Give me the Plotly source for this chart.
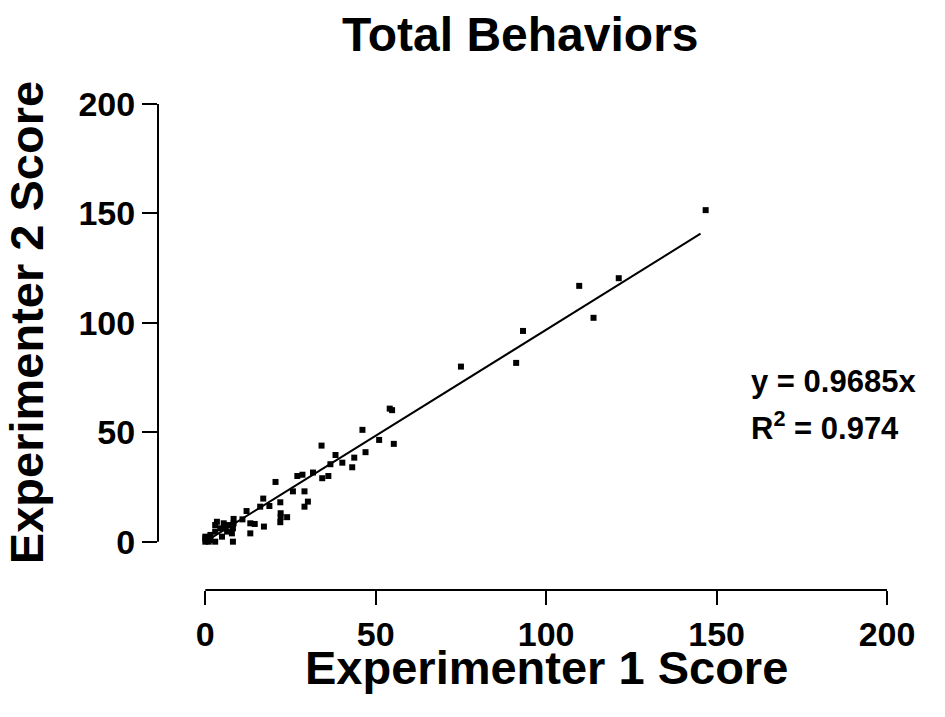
import plotly.graph_objects as go

# Experimenter scores
exp1_score = [146.8, 121.3, 109.7, 113.9, 93.2, 91.2, 75.0, 54.1, 54.8,
              46.1, 51.0, 55.3, 34.1, 47.0, 38.2, 43.7, 40.2, 36.7, 43.1,
              31.6, 28.5, 27.0, 36.1, 34.3, 20.6, 25.7, 29.1, 17.0, 22.0,
              30.1, 16.1, 18.8, 29.1, 12.1, 22.1, 24.0, 22.1, 22.0, 10.9,
              13.2, 14.5, 17.2, 13.2, 8.3, 8.1, 8.1,
              3.4, 5.4, 6.8, 4.4, 6.4, 2.9, 1.5, 0.0, 0.0, 2.9, 1.5, 7.8,
              4.9, 8.3, 2.9, 5.9, 0.0, 1.0]
exp2_score = [151.5, 120.4, 116.9, 102.3, 96.3, 81.7, 80.0, 60.8, 60.1,
              51.1, 46.5, 44.7, 43.9, 40.9, 39.6, 38.4, 36.1, 35.4, 34.0,
              31.6, 30.6, 30.0, 30.0, 29.0, 27.3, 23.0, 23.0, 19.7, 18.0,
              18.3, 16.0, 16.3, 16.0, 14.0, 13.0, 11.2, 11.2, 8.9, 10.2,
              8.4, 8.1, 6.9, 3.8, 10.4, 6.1, 0.0,
              9.1, 8.4, 7.6, 6.1, 4.6, 4.6, 3.1, 2.3, 0.0, 0.0, 0.8, 3.8,
              2.3, 8.4, 7.6, 6.1, 1.5, 0.0]

slope = 0.9685
r_squared = 0.974
fit_x = [0, 145.3]
fit_y = [slope * v for v in fit_x]

tick_vals = [0, 50, 100, 150, 200]
tick_text = ["0", "50", "100", "150", "200"]

FONT = "Liberation Sans, Arial, sans-serif"

fig = go.Figure()
fig.add_trace(go.Scatter(x=exp1_score, y=exp2_score, mode="markers",
                         marker=dict(symbol="square", size=6, color="black",
                                     line=dict(width=0)),
                         cliponaxis=False, showlegend=False))
fig.add_trace(go.Scatter(x=fit_x, y=fit_y, mode="lines",
                         line=dict(color="black", width=2),
                         showlegend=False))

# page body has an 8px offset; plot area in screen px: x 157.7..886.7, y 104.3..590
OFF = 8
W, H = 945, 717
L = 157.7 - OFF
T = 104.3 - OFF
R = W - (886.7 - OFF)
B = H - (590 - OFF)

bold_ticks = [f"<b>{t}</b>" for t in tick_text]

fig.update_layout(
    width=W, height=H,
    margin=dict(l=L, r=R, t=T, b=B, pad=0),
    paper_bgcolor="white", plot_bgcolor="white",
    font=dict(family=FONT, color="black"),
    xaxis=dict(range=[-13.88, 200], tickvals=tick_vals, ticktext=bold_ticks,
               ticks="outside", ticklen=14, tickwidth=2, tickcolor="black",
               showgrid=False, zeroline=False, showline=False,
               tickfont=dict(size=34, family=FONT, color="black"),
               automargin=False),
    yaxis=dict(range=[-22.08, 200], tickvals=tick_vals, ticktext=bold_ticks,
               ticks="outside", ticklen=15, tickwidth=2, tickcolor="black",
               showgrid=False, zeroline=False, showline=False,
               tickfont=dict(size=34, family=FONT, color="black"),
               automargin=False),
)

# Offset axis lines (Prism style)
fig.add_shape(type="line", xref="x", yref="paper", x0=0, x1=200, y0=0, y1=0,
              line=dict(color="black", width=2))
fig.add_shape(type="line", xref="paper", yref="y", x0=0, x1=0, y0=0, y1=200,
              line=dict(color="black", width=2))

ph = 590 - 104.3
pw = 886.7 - 157.7

def px_x(sx):
    return (sx - 157.7) / pw

def px_y(sy):
    return (590 - sy) / ph

fig.add_annotation(text="<b>Total Behaviors</b>", xref="paper", yref="paper",
                   x=px_x(520), y=px_y(35),
                   xanchor="center", yanchor="middle", showarrow=False,
                   font=dict(size=48, family=FONT))
fig.add_annotation(text="<b>Experimenter 1 Score</b>", xref="x", yref="paper",
                   x=100, y=px_y(667),
                   xanchor="center", yanchor="middle", showarrow=False,
                   font=dict(size=47, family=FONT))
fig.add_annotation(text="<b>Experimenter 2 Score</b>", xref="paper", yref="y",
                   x=px_x(27), y=100, textangle=-90,
                   xanchor="center", yanchor="middle", showarrow=False,
                   font=dict(size=47, family=FONT))
fig.add_annotation(text=f"<b>y = {slope}x</b>", xref="paper", yref="paper",
                   x=px_x(749), y=px_y(382),
                   xanchor="left", yanchor="middle", showarrow=False,
                   font=dict(size=31, family=FONT))
fig.add_annotation(text=f"<b>R<sup>2</sup> = {r_squared}</b>", xref="paper", yref="paper",
                   x=px_x(749), y=px_y(426),
                   xanchor="left", yanchor="middle", showarrow=False,
                   font=dict(size=31, family=FONT))

fig.write_html("out.html")
